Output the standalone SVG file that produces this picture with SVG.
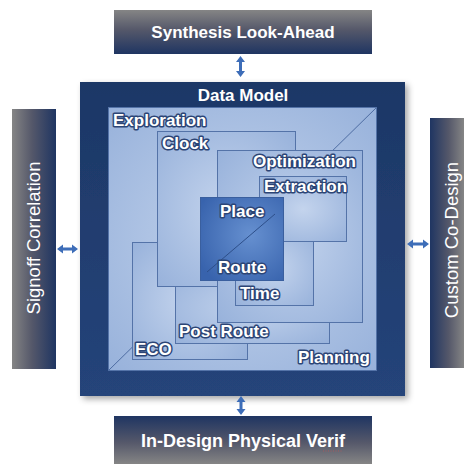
<svg xmlns="http://www.w3.org/2000/svg" width="466" height="464" viewBox="0 0 466 464">
  <defs>
    <linearGradient id="gTop" x1="0" y1="0" x2="0" y2="1">
      <stop offset="0" stop-color="#858585"/>
      <stop offset="0.45" stop-color="#55586a"/>
      <stop offset="1" stop-color="#1f3562"/>
    </linearGradient>
    <linearGradient id="gBottom" x1="0" y1="0" x2="0" y2="1">
      <stop offset="0" stop-color="#1f3562"/>
      <stop offset="0.55" stop-color="#55586a"/>
      <stop offset="1" stop-color="#858585"/>
    </linearGradient>
    <linearGradient id="gLeft" x1="0" y1="0" x2="1" y2="0">
      <stop offset="0" stop-color="#858585"/>
      <stop offset="0.45" stop-color="#55586a"/>
      <stop offset="1" stop-color="#1f3562"/>
    </linearGradient>
    <linearGradient id="gRight" x1="0" y1="0" x2="1" y2="0">
      <stop offset="0" stop-color="#1f3562"/>
      <stop offset="0.55" stop-color="#55586a"/>
      <stop offset="1" stop-color="#858585"/>
    </linearGradient>
    <linearGradient id="gModel" x1="0" y1="0" x2="0" y2="1">
      <stop offset="0" stop-color="#1d3766"/>
      <stop offset="1" stop-color="#25447a"/>
    </linearGradient>
    <radialGradient id="gBox" cx="0.5" cy="0.5" r="0.7">
      <stop offset="0" stop-color="#c4d4ed"/>
      <stop offset="1" stop-color="#98b2db"/>
    </radialGradient>
    <radialGradient id="gPlace" cx="0.6" cy="0.45" r="0.7">
      <stop offset="0" stop-color="#6690d0"/>
      <stop offset="1" stop-color="#3863ad"/>
    </radialGradient>
    <filter id="shadow" x="-10%" y="-10%" width="125%" height="125%">
      <feGaussianBlur in="SourceAlpha" stdDeviation="3"/>
      <feOffset dx="3" dy="3" result="b"/>
      <feFlood flood-color="#000" flood-opacity="0.35"/>
      <feComposite in2="b" operator="in"/>
      <feMerge><feMergeNode/><feMergeNode in="SourceGraphic"/></feMerge>
    </filter>
  </defs>
  <style>
    .title { font-family: "Liberation Sans", Arial, sans-serif; font-weight: bold; fill: #ffffff; text-anchor: middle; }
    .side { font-family: "Liberation Sans", Arial, sans-serif; font-size: 18.5px; fill: #ffffff; text-anchor: middle; }
    .lbl { font-family: "Liberation Sans", Arial, sans-serif; font-weight: bold; font-size: 17px; fill: #ffffff;
           stroke: #2c4576; stroke-width: 3; stroke-linejoin: round; paint-order: stroke; }
    .box { fill: url(#gBox); stroke: #5473a8; stroke-width: 1; }
    .diag { stroke: #4d6ca2; stroke-width: 1; fill: none; }
    .arrow { fill: #3d6db8; }
  </style>

  <rect width="466" height="464" fill="#ffffff"/>

  <!-- outer tools -->
  <g id="synthesis">
    <rect x="114" y="10" width="258" height="44" fill="url(#gTop)"/>
    <text class="title" x="243" y="38" font-size="17">Synthesis Look-Ahead</text>
  </g>
  <g id="in-design-pv">
    <rect x="114" y="416" width="258" height="48" fill="url(#gBottom)"/>
    <text class="title" x="243" y="447" font-size="18">In-Design Physical Verif</text>
    <line x1="323" y1="451" x2="343" y2="451" stroke="#d05050" stroke-width="1" stroke-dasharray="1 1.5" opacity="0.6"/>
  </g>
  <g id="signoff">
    <rect x="12" y="109" width="44" height="260" fill="url(#gLeft)"/>
    <text class="side" transform="translate(40 238) rotate(-90)">Signoff Correlation</text>
  </g>
  <g id="custom-codesign">
    <rect x="430" y="118" width="34" height="250" fill="url(#gRight)"/>
    <text class="side" transform="translate(458 240) rotate(-90)">Custom Co-Design</text>
  </g>

  <!-- central data model -->
  <g id="data-model">
    <rect x="80" y="82" width="325" height="314" fill="url(#gModel)" filter="url(#shadow)"/>
    <text class="title" x="243" y="101" font-size="17">Data Model</text>
  </g>

  <g id="exploration">
    <rect class="box" x="108.5" y="107.5" width="268" height="263"/>
    <line class="diag" x1="376.5" y1="107.5" x2="108.5" y2="370.5"/>
  </g>
  <g id="eco">
    <rect class="box" x="132.5" y="242.5" width="115" height="117"/>
  </g>
  <g id="post-route">
    <rect class="box" x="175.5" y="270.5" width="154" height="73"/>
  </g>
  <g id="clock">
    <rect class="box" x="157.5" y="131.5" width="138" height="155"/>
  </g>
  <g id="optimization">
    <rect class="box" x="217.5" y="150.5" width="145" height="172"/>
  </g>
  <g id="time">
    <rect class="box" x="235.5" y="230.5" width="78" height="75"/>
  </g>
  <g id="extraction">
    <rect class="box" x="259.5" y="176.5" width="87" height="65"/>
  </g>
  <g id="place-route">
    <rect x="200.5" y="197.5" width="83" height="83" fill="url(#gPlace)" stroke="#3a5f9e" stroke-width="1"/>
    <line x1="207" y1="272" x2="275" y2="214" stroke="#2d4f8a" stroke-width="1"/>
  </g>

  <!-- stage labels -->
  <g id="labels">
    <text class="lbl" x="113" y="126">Exploration</text>
    <text class="lbl" x="162" y="149">Clock</text>
    <text class="lbl" x="253" y="167">Optimization</text>
    <text class="lbl" x="264" y="192">Extraction</text>
    <text class="lbl" x="220" y="217">Place</text>
    <text class="lbl" x="218" y="273">Route</text>
    <text class="lbl" x="240" y="299">Time</text>
    <text class="lbl" x="179" y="337">Post Route</text>
    <text class="lbl" x="135" y="355">ECO</text>
    <text class="lbl" x="298" y="363">Planning</text>
  </g>

  <!-- two-way links between the data model and the outer tools -->
  <g id="connectors">
    <path class="arrow" d="M240.5 56 l4.5 6 h-3 v9 h3 l-4.5 6 l-4.5 -6 h3 v-9 h-3 z"/>
    <path class="arrow" d="M241 396 l4.5 6 h-3 v7 h3 l-4.5 6 l-4.5 -6 h3 v-7 h-3 z"/>
    <path class="arrow" d="M57 249 l6 -4.5 v3 h9 v-3 l6 4.5 l-6 4.5 v-3 h-9 v3 z"/>
    <path class="arrow" d="M407 244 l6 -4.5 v3 h10 v-3 l6 4.5 l-6 4.5 v-3 h-10 v3 z"/>
  </g>
</svg>
